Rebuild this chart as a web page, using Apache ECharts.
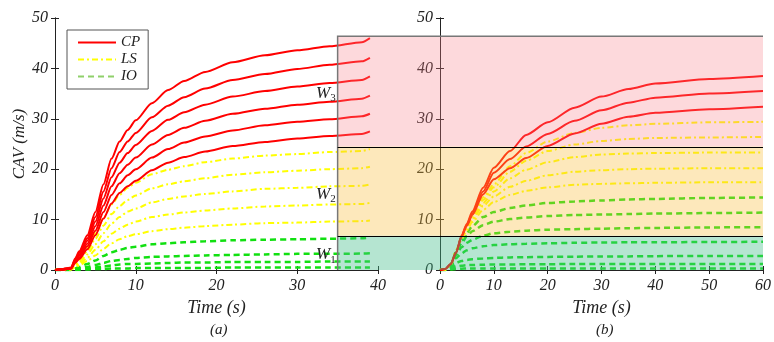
<!DOCTYPE html>
<html>
<head>
<meta charset="utf-8">
<script src="https://cdn.jsdelivr.net/npm/echarts@6/dist/echarts.min.js"></script>
<style>
  html, body { margin: 0; padding: 0; background: #fff; }
  #main { width: 774px; height: 342px; }
</style>
</head>
<body>
<div id="main"></div>
<script>
// panel (a)
var timeA = [0, 1, 2, 2.5, 3, 4, 5, 6, 7, 8, 9, 10, 12, 14, 16, 18.6, 22, 26, 30, 34, 38, 39];
var cpA = [
  [0, 0.2, 0.5, 2.3, 3.7, 6.9, 11.5, 17.0, 22.1, 25.5, 27.8, 29.7, 33.1, 35.7, 37.5, 39.3, 41.2, 42.6, 43.6, 44.4, 45.2, 46.0],
  [0, 0.2, 0.4, 2.1, 3.4, 6.3, 10.5, 15.6, 20.2, 23.4, 25.5, 27.2, 30.3, 32.6, 34.3, 36.0, 37.7, 38.9, 39.9, 40.7, 41.4, 42.1],
  [0, 0.2, 0.4, 1.9, 3.1, 5.8, 9.6, 14.2, 18.4, 21.3, 23.2, 24.8, 27.6, 29.8, 31.3, 32.8, 34.4, 35.5, 36.4, 37.1, 37.7, 38.4],
  [0, 0.1, 0.3, 1.7, 2.8, 5.2, 8.7, 12.8, 16.6, 19.2, 20.9, 22.3, 24.9, 26.8, 28.2, 29.6, 31.0, 32.0, 32.8, 33.4, 34.0, 34.6],
  [0, 0.1, 0.3, 1.6, 2.5, 4.7, 7.8, 11.5, 14.9, 17.2, 18.8, 20.0, 22.3, 24.0, 25.3, 26.5, 27.7, 28.7, 29.4, 29.9, 30.5, 31.0],
  [0, 0.1, 0.3, 1.4, 2.2, 4.1, 6.9, 10.2, 13.2, 15.3, 16.6, 17.7, 19.8, 21.3, 22.4, 23.5, 24.6, 25.4, 26.1, 26.6, 27.0, 27.5]
];
var lsA = [
  [0, 0.1, 0.2, 1.2, 2.2, 4.3, 7.2, 10.3, 13.0, 14.9, 16.3, 17.3, 19.0, 19.9, 20.6, 21.4, 22.1, 22.7, 23.0, 23.4, 23.6, 24.0],
  [0, 0.1, 0.2, 1.0, 1.8, 3.7, 6.2, 8.8, 11.1, 12.7, 13.9, 14.8, 16.2, 17.0, 17.6, 18.2, 18.9, 19.4, 19.7, 20.0, 20.2, 20.5],
  [0, 0.1, 0.2, 0.9, 1.5, 3.1, 5.1, 7.3, 9.2, 10.5, 11.6, 12.2, 13.4, 14.1, 14.6, 15.1, 15.6, 16.1, 16.3, 16.6, 16.7, 17.0],
  [0, 0.1, 0.1, 0.7, 1.2, 2.4, 4.0, 5.7, 7.2, 8.2, 9.0, 9.6, 10.5, 11.0, 11.4, 11.8, 12.2, 12.6, 12.8, 13.0, 13.1, 13.3],
  [0, 0, 0.1, 0.5, 0.9, 1.8, 2.9, 4.2, 5.3, 6.1, 6.7, 7.1, 7.7, 8.1, 8.4, 8.7, 9.0, 9.3, 9.4, 9.6, 9.7, 9.8]
];
var ioA = [
  [0, 0, 0.1, 0.3, 0.6, 1.2, 1.9, 2.8, 3.5, 4.0, 4.4, 4.6, 5.1, 5.3, 5.5, 5.7, 5.9, 6.0, 6.1, 6.2, 6.3, 6.4],
  [0, 0, 0, 0.2, 0.3, 0.6, 1.0, 1.4, 1.8, 2.0, 2.2, 2.4, 2.6, 2.7, 2.8, 2.9, 3.0, 3.1, 3.2, 3.2, 3.25, 3.3],
  [0, 0, 0, 0.1, 0.2, 0.3, 0.5, 0.7, 0.9, 1.1, 1.2, 1.2, 1.3, 1.4, 1.5, 1.5, 1.6, 1.6, 1.6, 1.7, 1.7, 1.7],
  [0, 0, 0, 0, 0, 0.1, 0.2, 0.2, 0.3, 0.3, 0.3, 0.4, 0.4, 0.4, 0.4, 0.4, 0.5, 0.5, 0.5, 0.5, 0.5, 0.5]
];

// panel (b)
var timeB = [0, 1, 2, 3, 4, 5, 6, 8, 10, 13, 16, 20, 25, 30, 35, 40, 50, 60];
var cpB = [
  [0, 0.2, 1.2, 3.5, 6.8, 9.2, 11.6, 16.3, 20.3, 23.6, 26.8, 29.3, 32.2, 34.4, 35.9, 37.0, 37.9, 38.5],
  [0, 0.2, 1.2, 3.5, 6.7, 9.0, 11.2, 15.6, 19.3, 22.0, 24.5, 27.0, 29.6, 31.7, 33.2, 34.2, 35.0, 35.5],
  [0, 0.2, 1.2, 3.4, 6.6, 8.8, 10.9, 15.0, 18.0, 20.2, 22.2, 24.6, 27.1, 29.0, 30.4, 31.2, 31.9, 32.4]
];
var lsB = [
  [0, 0.1, 1.0, 3.9, 6.6, 8.9, 10.9, 14.4, 17.0, 20.6, 23.2, 25.5, 27.2, 28.2, 28.7, 29.0, 29.3, 29.4],
  [0, 0.1, 1.0, 3.9, 6.5, 8.7, 10.7, 13.9, 16.4, 19.5, 21.7, 23.6, 24.9, 25.6, 26.0, 26.2, 26.3, 26.4],
  [0, 0.1, 1.0, 3.8, 6.3, 8.5, 10.3, 13.3, 15.6, 18.2, 19.9, 21.4, 22.4, 22.9, 23.1, 23.2, 23.3, 23.3],
  [0, 0.1, 1.0, 3.8, 6.2, 8.2, 10.0, 12.7, 14.6, 16.5, 17.7, 18.8, 19.5, 19.8, 20.0, 20.1, 20.2, 20.2],
  [0, 0.1, 1.0, 3.7, 6.0, 7.9, 9.5, 11.9, 13.5, 14.9, 15.7, 16.4, 16.9, 17.1, 17.2, 17.3, 17.4, 17.4]
];
var ioB = [
  [0, 0.1, 1.0, 3.6, 5.8, 7.4, 8.7, 10.5, 11.5, 12.3, 12.8, 13.3, 13.6, 13.8, 14.0, 14.1, 14.3, 14.4],
  [0, 0.1, 1.0, 3.4, 5.3, 6.7, 7.7, 8.9, 9.6, 10.1, 10.4, 10.7, 10.9, 11.0, 11.1, 11.2, 11.3, 11.4],
  [0, 0.1, 0.9, 3.0, 4.5, 5.4, 6.0, 6.8, 7.3, 7.6, 7.8, 8.0, 8.1, 8.2, 8.3, 8.35, 8.45, 8.5],
  [0, 0.1, 0.8, 2.4, 3.3, 3.9, 4.3, 4.7, 4.95, 5.1, 5.2, 5.3, 5.4, 5.45, 5.5, 5.5, 5.55, 5.6],
  [0, 0, 0.5, 1.4, 1.8, 2.0, 2.15, 2.3, 2.4, 2.5, 2.55, 2.6, 2.65, 2.7, 2.7, 2.75, 2.8, 2.8],
  [0, 0, 0.3, 0.7, 0.85, 0.95, 1.0, 1.05, 1.1, 1.1, 1.15, 1.15, 1.2, 1.2, 1.2, 1.2, 1.2, 1.2],
  [0, 0, 0.1, 0.2, 0.25, 0.3, 0.3, 0.3, 0.3, 0.3, 0.3, 0.3, 0.3, 0.3, 0.3, 0.3, 0.3, 0.3]
];

// damage zones W1..W3
var zoneStart = 35;
var zoneBounds = [0, 6.8, 24.5, 46.4];
var zoneNames = ['1', '2', '3'];
var zoneLabelY = [3, 15, 35];

var serif = 'Liberation Serif';
var ink = '#222';

function pairs(xs, ys) {
    return ys.map(function (v, i) { return [xs[i], v]; });
}

function xAxis(grid, max, top) {
    return {
        gridIndex: grid, type: 'value', min: 0, max: max, interval: 10,
        position: top ? 'top' : 'bottom',
        name: top ? '' : 'Time (s)', nameLocation: 'middle', nameGap: 26,
        nameTextStyle: { fontFamily: serif, fontStyle: 'italic', fontSize: 18, color: ink },
        axisLine: { lineStyle: { color: ink } },
        axisTick: { inside: true, length: 4, lineStyle: { color: ink } },
        axisLabel: { show: !top, fontFamily: serif, fontStyle: 'italic', fontSize: 16, color: ink, margin: 8 },
        splitLine: { show: false }
    };
}

function yAxis(grid, right, name) {
    return {
        gridIndex: grid, type: 'value', min: 0, max: 50, interval: 10,
        position: right ? 'right' : 'left',
        name: name || '', nameLocation: 'middle', nameGap: 27,
        nameTextStyle: { fontFamily: serif, fontStyle: 'italic', fontSize: 17, color: ink },
        axisLine: { lineStyle: { color: ink } },
        axisTick: { inside: true, length: 4, lineStyle: { color: ink } },
        axisLabel: { show: !right, fontFamily: serif, fontStyle: 'italic', fontSize: 16, color: ink, margin: 7 },
        splitLine: { show: false }
    };
}

var styles = {
    CP: { color: '#ff0000', width: 2, type: 'solid' },
    LS: { color: '#ffff00', width: 2, type: [6, 3, 2, 3] },
    IO: { color: '#11e011', width: 2.5, type: [6, 4] }
};

function lines(name, sets, xs, axis) {
    return sets.map(function (ys) {
        return {
            name: name, type: 'line', xAxisIndex: axis, yAxisIndex: axis,
            data: pairs(xs, ys), symbol: 'none', smooth: 0.25, smoothMonotone: 'x',
            lineStyle: styles[name], itemStyle: { color: styles[name].color },
            silent: true, animation: false
        };
    });
}

var series = [].concat(
    lines('IO', ioA, timeA, 0), lines('LS', lsA, timeA, 0), lines('CP', cpA, timeA, 0),
    lines('IO', ioB, timeB, 2), lines('LS', lsB, timeB, 2), lines('CP', cpB, timeB, 2)
);

var mychart = echarts.init(document.getElementById('main'));
var option = {
    animation: false,
    grid: [
        { left: 55, top: 18, width: 323, height: 252 },
        { left: 440, top: 18, width: 325, height: 252 }
    ],
    xAxis: [xAxis(0, 40, false), xAxis(0, 40, true), xAxis(1, 60, false), xAxis(1, 60, true)],
    yAxis: [yAxis(0, false, 'CAV (m/s)'), yAxis(0, true), yAxis(1, false), yAxis(1, true)],
    legend: {
        left: 67, top: 30, orient: 'vertical',
        itemWidth: 38, itemHeight: 14, itemGap: 2,
        padding: [5, 8, 5, 10],
        borderColor: '#555', borderWidth: 1,
        itemStyle: { opacity: 0 },
        textStyle: { fontFamily: serif, fontStyle: 'italic', fontSize: 15, color: ink },
        data: [
            { name: 'CP' },
            { name: 'LS' },
            { name: 'IO', lineStyle: { color: '#8fd06a' } }
        ]
    },
    title: [
        { text: '(a)', left: 205, top: 318, textStyle: { fontFamily: serif, fontStyle: 'italic', fontWeight: 'normal', fontSize: 15, color: ink } },
        { text: '(b)', left: 591, top: 318, textStyle: { fontFamily: serif, fontStyle: 'italic', fontWeight: 'normal', fontSize: 15, color: ink } }
    ],
    series: series
};
mychart.setOption(option);

// shaded zones across both panels, placed through the axes
function px(grid, x, y) { return mychart.convertToPixel({ gridIndex: grid }, [x, y]); }
var xl = px(0, zoneStart, 0)[0];
var xr = px(1, 60, 0)[0];
var fills = ['rgba(70,190,140,0.4)', 'rgba(248,190,60,0.35)', 'rgba(250,128,140,0.3)'];
var g = [];
for (var i = 0; i < 3; i++) {
    var y1 = px(0, 0, zoneBounds[i + 1])[1];
    var y0 = px(0, 0, zoneBounds[i])[1];
    g.push({ type: 'rect', z: 100, shape: { x: xl, y: y1, width: xr - xl, height: y0 - y1 }, style: { fill: fills[i] } });
    var ly = px(0, 0, zoneLabelY[i])[1];
    g.push({
        type: 'text', z: 101,
        style: {
            x: xl - 2, y: ly, align: 'right', verticalAlign: 'middle',
            text: '{w|W}{s|' + zoneNames[i] + '}',
            rich: {
                w: { fontFamily: serif, fontStyle: 'italic', fontSize: 17, fill: ink },
                s: { fontFamily: serif, fontSize: 11, fill: ink, padding: [10, 0, 0, 0] }
            }
        }
    });
}
var yTop = px(0, 0, zoneBounds[3])[1];
var yBot = px(0, 0, 0)[1];
g.push({ type: 'polyline', z: 102, shape: { points: [[xl, yBot], [xl, yTop], [xr, yTop]] }, style: { stroke: '#777', lineWidth: 1.5, fill: null } });
[1, 2].forEach(function (k) {
    var yy = Math.round(px(0, 0, zoneBounds[k])[1]) + 0.5;
    g.push({ type: 'line', z: 102, shape: { x1: xl, y1: yy, x2: xr, y2: yy }, style: { stroke: '#000', lineWidth: 1 } });
});
mychart.setOption({ graphic: g });
</script>
</body>
</html>
